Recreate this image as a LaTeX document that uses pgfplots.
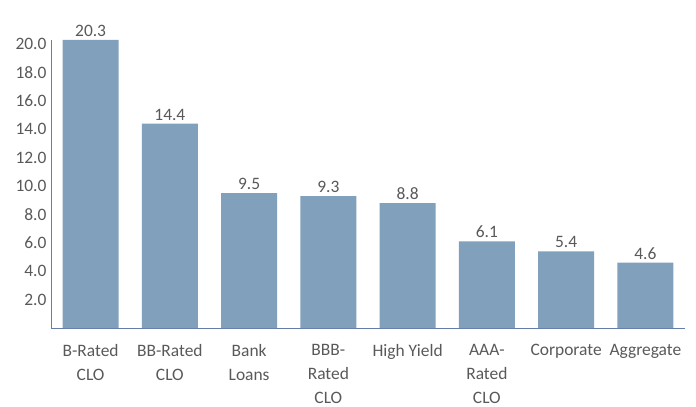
\documentclass[border=0pt]{standalone}
\usepackage{fontspec}
\setmainfont{Carlito}
\usepackage{pgfplots}
\pgfplotsset{compat=1.18}
\definecolor{barc}{RGB}{128,160,188}
\definecolor{axc}{RGB}{100,125,170}
\definecolor{txt}{RGB}{89,89,89}
\begin{document}
\begin{tikzpicture}
\begin{axis}[
  scale only axis,
  width=634bp, height=288bp,
  xmin=-0.5, xmax=7.5,
  ymin=0, ymax=20.3,
  axis x line=bottom, axis y line=left,
  axis line style={axc, line width=0.9pt, -},
  ytick={2,4,...,20},
  major tick length=0pt,
  /pgf/number format/assume math mode=true,
  yticklabel style={/pgf/number format/fixed, /pgf/number format/fixed zerofill, /pgf/number format/precision=1, anchor=east, xshift=-1bp},
  ticklabel style={font=\fontsize{17.5}{24}\selectfont, text=txt},
  xtick=data,
  xticklabels={{B-Rated\\CLO},{BB-Rated\\CLO},{Bank\\Loans},{BBB-\\Rated\\CLO},{High Yield},{AAA-\\Rated\\CLO},{Corporate},{Aggregate}},
  xticklabel style={align=center, anchor=north, yshift=-13bp},
  ybar, bar width=56bp,
  nodes near coords,
  nodes near coords style={font=\fontsize{17.5}{20}\selectfont, text=txt, /pgf/number format/fixed, /pgf/number format/fixed zerofill, /pgf/number format/precision=1, /pgf/number format/assume math mode=true},
  clip=false,
]
\addplot[fill=barc, draw=none] coordinates {(0,20.3) (1,14.4) (2,9.5) (3,9.3) (4,8.8) (5,6.1) (6,5.4) (7,4.6)};
\coordinate (sw) at (rel axis cs:0,0);
\end{axis}
\pgfresetboundingbox
\path (sw) ++(-51bp,-79bp) rectangle ++(696bp,407bp);
\end{tikzpicture}
\end{document}
